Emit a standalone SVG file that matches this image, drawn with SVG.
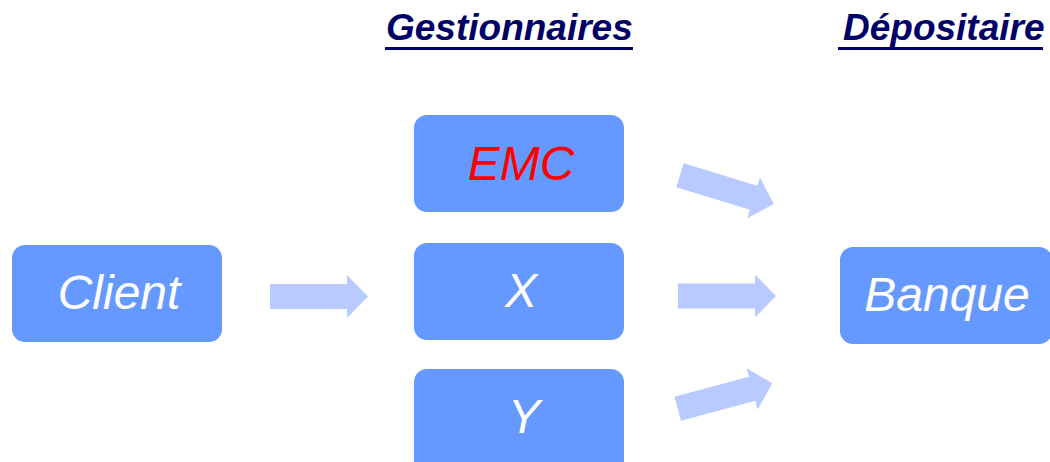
<svg xmlns="http://www.w3.org/2000/svg" width="1050" height="462" viewBox="0 0 1050 462">
<style>
.box{fill:#6699FF;}
.lbl{font-family:"Liberation Sans",Arial,sans-serif;font-style:italic;font-size:48px;fill:#FFFFFF;text-anchor:middle;}
.hdr{font-family:"Liberation Sans",Arial,sans-serif;font-style:italic;font-weight:bold;font-size:37px;fill:#000066;}
.arrow{fill:#B8CAFF;}
</style>
<defs>
<path id="arr" d="M0,-12.5 L77,-12.5 L77,-21.5 L98,0 L77,21.5 L77,12.5 L0,12.5 Z"/>
</defs>
<rect width="1050" height="462" fill="#FFFFFF"/>
<g id="headers">
<text class="hdr" x="386" y="40">Gestionnaires</text>
<rect x="385" y="47" width="248" height="3" fill="#000066"/>
<text class="hdr" x="843" y="40">Dépositaire</text>
<rect x="838" y="47" width="205" height="3" fill="#000066"/>
</g>
<g id="client">
<rect class="box" x="12" y="245" width="210" height="97" rx="13"/>
<text class="lbl" x="119" y="309">Client</text>
</g>
<g id="emc">
<rect class="box" x="414" y="115" width="210" height="97" rx="13"/>
<text class="lbl" x="521" y="180" style="fill:#FF0000">EMC</text>
</g>
<g id="x">
<rect class="box" x="414" y="243" width="210" height="97" rx="13"/>
<text class="lbl" x="521" y="307">X</text>
</g>
<g id="y">
<rect class="box" x="414" y="369" width="210" height="110" rx="13"/>
<text class="lbl" x="524" y="433">Y</text>
</g>
<g id="banque">
<rect class="box" x="840" y="247" width="212" height="97" rx="13"/>
<text class="lbl" x="947" y="311">Banque</text>
</g>
<g id="connectors">
<use href="#arr" class="arrow" transform="translate(270,296.5)"/>
<use href="#arr" class="arrow" transform="translate(680,175.3) rotate(17)"/>
<use href="#arr" class="arrow" transform="translate(678,296)"/>
<use href="#arr" class="arrow" transform="translate(677.7,408.7) rotate(-15)"/>
</g>
</svg>
